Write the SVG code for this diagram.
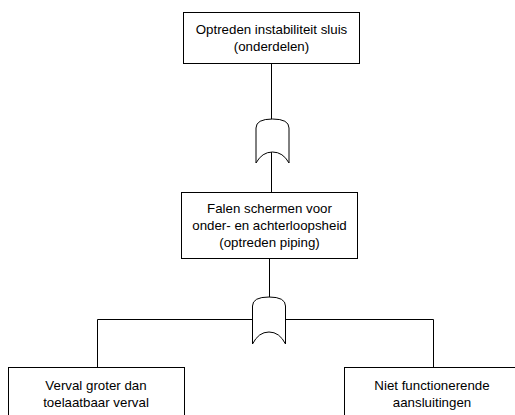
<svg xmlns="http://www.w3.org/2000/svg" width="515" height="415" viewBox="0 0 515 415">
<style>
.box{fill:#fff;stroke:#000;stroke-width:1}
.ln{fill:none;stroke:#000;stroke-width:1}
.gate{fill:#fff;stroke:#000;stroke-width:1}
text{font-family:"Liberation Sans",Arial,sans-serif;font-size:13.3px;fill:#000;text-anchor:middle}
</style>
<rect width="515" height="415" fill="#fff"/>
<g id="connectors">
<path class="ln" d="M271.5,63 V119"/>
<path class="ln" d="M271.5,152 V192"/>
<path class="ln" d="M269.5,258 V297"/>
<path class="ln" d="M252,319.5 H97.5 V367"/>
<path class="ln" d="M285,319.5 H433.5 V367"/>
</g>
<g id="gate1">
<path class="gate" d="M256,163 V128 Q256,119 272.5,119 Q289,119 289,128 V163 Q283,152 272.5,152 Q262,152 256,163 Z"/>
</g>
<g id="gate2">
<path class="gate" d="M252.5,344 V306 Q252.5,297 269,297 Q285.5,297 285.5,306 V344 Q279.5,332 269,332 Q258.5,332 252.5,344 Z"/>
</g>
<g id="top">
<rect class="box" x="183.5" y="12.5" width="176" height="51"/>
<text x="271.5" y="34">Optreden instabiliteit sluis</text>
<text x="271.5" y="51">(onderdelen)</text>
</g>
<g id="middle">
<rect class="box" x="181.5" y="192.5" width="176" height="66"/>
<text x="269.5" y="213">Falen schermen voor</text>
<text x="269.5" y="230">onder- en achterloopsheid</text>
<text x="269.5" y="247">(optreden piping)</text>
</g>
<g id="left">
<rect class="box" x="8.5" y="367.5" width="176" height="60"/>
<text x="96" y="390">Verval groter dan</text>
<text x="96" y="407">toelaatbaar verval</text>
</g>
<g id="right">
<rect class="box" x="344.5" y="367.5" width="176" height="60"/>
<text x="432" y="390">Niet functionerende</text>
<text x="432" y="407">aansluitingen</text>
</g>
</svg>
